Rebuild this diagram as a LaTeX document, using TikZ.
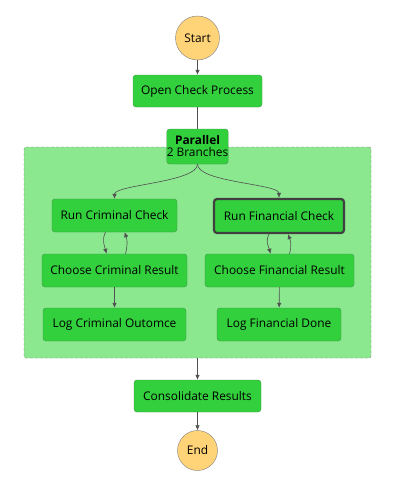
\documentclass[tikz,border=0pt]{standalone}
\usepackage{fontspec}
\setmainfont{Open Sans}
\usetikzlibrary{arrows.meta}

\definecolor{taskgreen}{RGB}{51,208,61}
\definecolor{taskline}{RGB}{60,150,70}
\definecolor{regiongreen}{RGB}{139,232,143}
\definecolor{termfill}{RGB}{255,211,120}
\definecolor{edgegray}{RGB}{80,80,80}

\begin{document}
\begin{tikzpicture}[
    x=1pt, y=-1pt,
    font=\fontsize{11.9}{13}\selectfont,
    task/.style={rectangle, rounded corners=3pt, draw=taskline, fill=taskgreen, minimum height=33pt, inner sep=0pt, align=center},
    term/.style={circle, draw=gray, fill=termfill, inner sep=0pt},
    region/.style={rectangle, rounded corners=2pt, draw=gray, dashed, dash pattern=on 3pt off 2pt, fill=regiongreen, inner sep=0pt},
    edge/.style={draw=edgegray, semithick, -{Latex[length=5pt,width=4.5pt]}}
]
\useasboundingbox (0,0) rectangle (407,493);

% Parallel state region
\node[region, minimum width=347pt, minimum height=211pt] (branches) at (197.5,252.5) {};

% Main flow
\node[term, minimum size=44pt] (start) at (197.5,38) {Start};
\node[task, minimum width=129pt, minimum height=32pt] (open) at (197.5,91) {Open Check Process};
\node[task, minimum width=61pt, minimum height=35pt] (parallel) at (197.5,146.5) {\textbf{Parallel}\\[-1pt]2 Branches};

% Criminal branch
\node[task, minimum width=125pt] (runcrim) at (114.5,215.5) {Run Criminal Check};
\node[task, minimum width=145pt] (choosecrim) at (114.5,270.5) {Choose Criminal Result};
\node[task, minimum width=143pt] (logcrim) at (114.5,324.5) {Log Criminal Outomce};

% Financial branch
\node[task, minimum width=130pt, minimum height=34pt, draw=black!75, line width=2.2pt] (runfin) at (279,216) {Run Financial Check};
\node[task, minimum width=149pt] (choosefin) at (279.5,270.5) {Choose Financial Result};
\node[task, minimum width=124pt] (logfin) at (279,324.5) {Log Financial Done};

% End of flow
\node[task, minimum width=127pt, minimum height=32pt] (consolidate) at (197.5,396) {Consolidate Results};
\node[term, minimum size=40pt] (stop) at (197.5,450.5) {End};

% Arrows
\draw[edge] (start) -- (open);
\draw[draw=edgegray, semithick] (open) -- (parallel);
\draw[edge] (parallel.south) .. controls +(0,18) and +(0,-14) .. (runcrim.north);
\draw[edge] (parallel.south) .. controls +(0,18) and +(0,-14) .. (runfin.north);

\draw[edge] ([xshift=-9pt]runcrim.south) .. controls +(-4,8) and +(-2,-8) .. ([xshift=-8pt]choosecrim.north);
\draw[edge] ([xshift=11pt]choosecrim.north) .. controls +(2,-8) and +(3,8) .. ([xshift=10pt]runcrim.south);
\draw[edge] (choosecrim) -- (logcrim);

\draw[edge] ([xshift=-10pt]runfin.south) .. controls +(-4,8) and +(-2,-8) .. ([xshift=-9pt]choosefin.north);
\draw[edge] ([xshift=10pt]choosefin.north) .. controls +(2,-8) and +(3,8) .. ([xshift=9pt]runfin.south);
\draw[edge] (choosefin) -- (logfin);

\draw[edge] (branches.south) -- (consolidate);
\draw[edge] (consolidate) -- (stop);

\end{tikzpicture}
\end{document}
